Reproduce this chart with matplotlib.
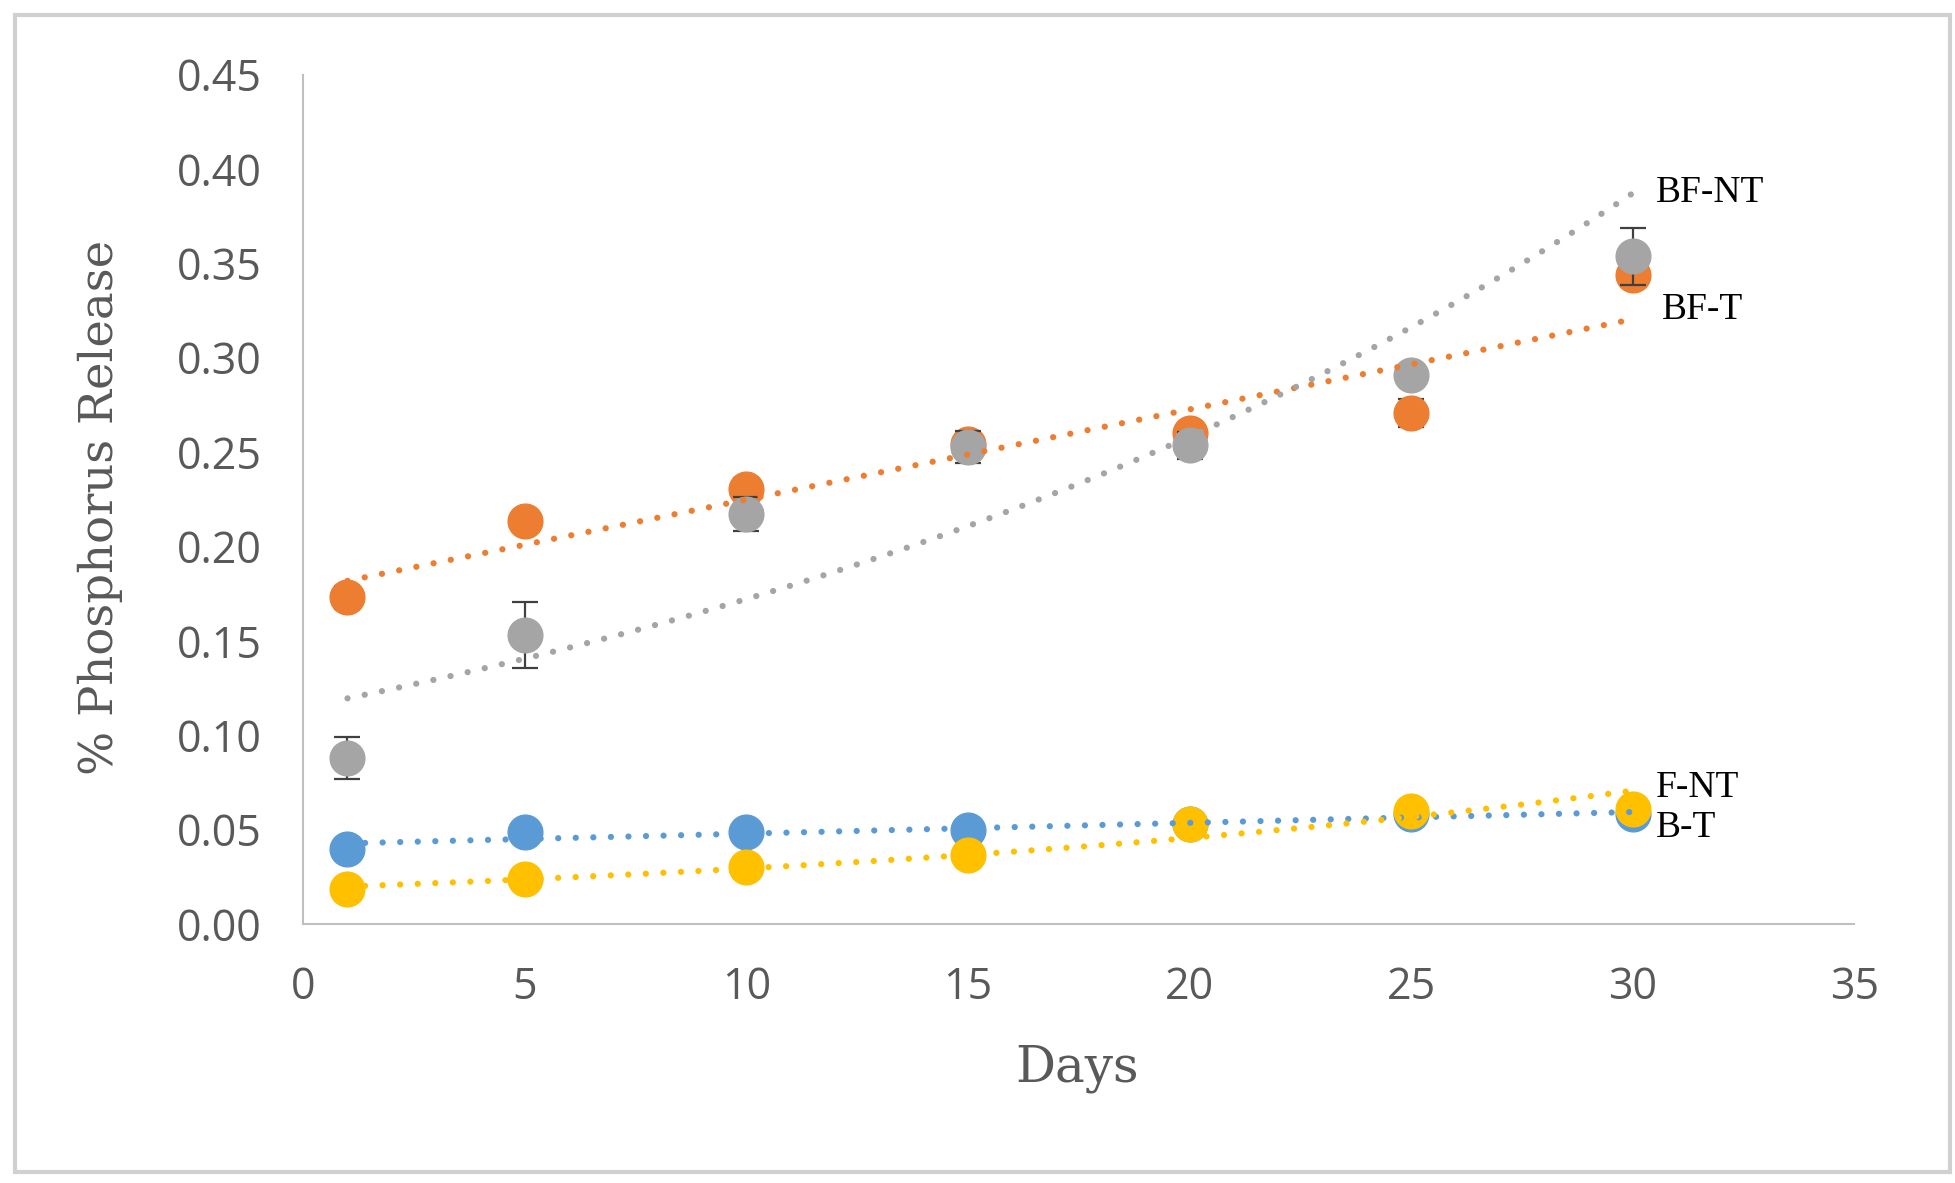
import numpy as np
import matplotlib
matplotlib.use("Agg")
import matplotlib.pyplot as plt
from matplotlib.patches import Rectangle

# ---------------------------
# Data
# ---------------------------
days = [1, 5, 10, 15, 20, 25, 30]

b_t = [0.0395, 0.0485, 0.0485, 0.050, 0.053, 0.058, 0.058]
bf_t = [0.173, 0.2135, 0.2305, 0.254, 0.260, 0.2705, 0.344]
bf_nt = [0.088, 0.153, 0.217, 0.2525, 0.2535, 0.291, 0.3536]
f_nt = [0.0184, 0.0237, 0.030, 0.0364, 0.053, 0.0597, 0.061]

b_t_err = [0.002, 0.001, 0.001, 0.001, 0.001, 0.002, 0.001]
bf_t_err = [0.006, 0.003, 0.006, 0.006, 0.004, 0.0075, 0.006]
bf_nt_err = [0.011, 0.0175, 0.009, 0.0085, 0.007, 0.004, 0.015]
f_nt_err = [0.001, 0.001, 0.002, 0.001, 0.002, 0.002, 0.002]

names = ["B-T", "BF-T", "BF-NT", "F-NT"]
series = [b_t, bf_t, bf_nt, f_nt]
errors = [b_t_err, bf_t_err, bf_nt_err, f_nt_err]
colors = ["#5B9BD5", "#ED7D31", "#A5A5A5", "#FFC000"]
trend_kind = ["linear", "linear", "exp", "exp"]
label_offset = [(17, -11), (21, 7), (17, 0), (17, 2)]   # points, from trend end

y_ticks = [0.00, 0.05, 0.10, 0.15, 0.20, 0.25, 0.30, 0.35, 0.40, 0.45]
x_ticks = [0, 5, 10, 15, 20, 25, 30, 35]

tick_color = "#595959"


def trend(x, y, kind):
    """Excel-like trendline: least squares linear or exponential fit."""
    x = np.asarray(x, dtype=float)
    y = np.asarray(y, dtype=float)
    xs = np.linspace(x.min(), x.max(), 100)
    if kind == "exp":
        k, c = np.polyfit(x, np.log(y), 1)
        return xs, np.exp(c + k * xs)
    m, c = np.polyfit(x, y, 1)
    return xs, c + m * xs


fig = plt.figure(figsize=(19.56, 11.83), dpi=100)
ax = fig.add_axes([0.155, 0.219, 0.793, 0.718])

# ---------------------------
# Points + error bars
# ---------------------------
for i, (vals, err, col) in enumerate(zip(series, errors, colors)):
    ax.errorbar(days, vals, yerr=err, fmt="o", color=col, markersize=25,
                ecolor="#404040", elinewidth=1.6, capsize=9.5, capthick=1.6,
                zorder=2 + i * 0.2)

# ---------------------------
# Trendlines + labels
# ---------------------------
for vals, col, kind, name, off in zip(series, colors, trend_kind, names, label_offset):
    xs, ys = trend(days, vals, kind)
    ax.plot(xs, ys, color=col, lw=4.5, linestyle=(0, (0.01, 2.8)),
            dash_capstyle="round", zorder=5)
    ax.annotate(name, (xs[-1], ys[-1]), xytext=off, textcoords="offset points",
                ha="left", va="center", fontsize=27, family="Liberation Serif",
                color="black")

# ---------------------------
# Axes styling
# ---------------------------
ax.set_xlim(0, 35)
ax.set_ylim(0, 0.45)
ax.set_xticks(x_ticks)
ax.set_yticks(y_ticks)
ax.set_yticklabels([f"{v:.2f}" for v in y_ticks])
ax.tick_params(length=0, pad=30, labelsize=31, labelcolor=tick_color)
for lbl in ax.get_xticklabels() + ax.get_yticklabels():
    lbl.set_family("Open Sans")

for side in ["top", "right"]:
    ax.spines[side].set_visible(False)
for side in ["left", "bottom"]:
    ax.spines[side].set_color("#BFBFBF")
    ax.spines[side].set_linewidth(1.5)

ax.set_xlabel("Days", fontsize=36, family="DejaVu Serif", color=tick_color, va="center")
ax.xaxis.set_label_coords(0.499, -0.17)
ax.set_ylabel("% Phosphorus Release", fontsize=33.5, family="DejaVu Serif",
              color=tick_color, va="center")
ax.yaxis.set_label_coords(-0.131, 0.49)

# light gray frame round the whole picture
fig.patches.append(Rectangle((15 / 1956, 11 / 1183), 1935 / 1956, 1157 / 1183,
                             transform=fig.transFigure, fill=False,
                             edgecolor="#D0D0D0", lw=3))

fig.savefig("out.png", dpi=100)
